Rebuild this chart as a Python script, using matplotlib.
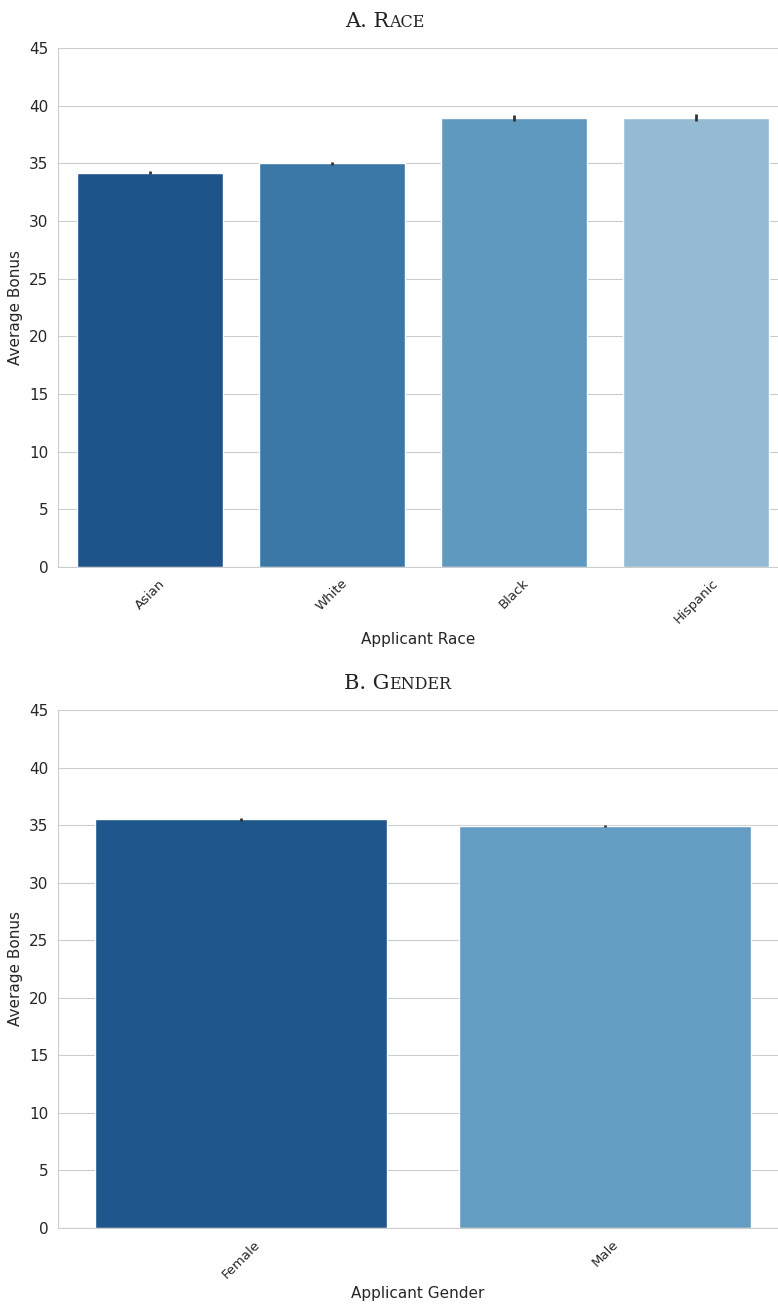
import matplotlib.pyplot as plt
import seaborn as sns

race_labels = ['Asian', 'White', 'Black', 'Hispanic']
race_bonus = [34.2, 35.0, 38.9, 38.95]
race_err = [0.12, 0.15, 0.25, 0.3]
race_colors = ['#1f548b', '#3b78a8', '#6099bf', '#94bbd3']

gender_labels = ['Female', 'Male']
gender_bonus = [35.5, 34.95]
gender_err = [0.1, 0.1]
gender_colors = ['#1f568c', '#659cc1']

sns.set_style('whitegrid')
plt.rcParams['font.family'] = ['DejaVu Sans']


def smallcaps_title(fig, y, first, rest):
    # fake small caps: big first letters, smaller upper-case rest
    fig.text(0.5, y, first, family='DejaVu Serif', fontsize=15, ha='right', va='baseline', color='#222222')
    fig.text(0.5, y, rest.upper(), family='DejaVu Serif', fontsize=11.5, ha='left', va='baseline', color='#222222')


def panel(ax, labels, vals, errs, colors, xlabel, xlim):
    x = range(len(labels))
    ax.bar(x, vals, width=0.8, color=colors)
    ax.errorbar(x, vals, yerr=errs, fmt='none', ecolor='#333333', elinewidth=2)
    ax.set_xticks(list(x))
    ax.set_xticklabels(labels, rotation=45)
    ax.set_xlim(*xlim)
    ax.set_ylim(0, 45)
    ax.set_yticks(range(0, 50, 5))
    ax.set_xlabel(xlabel, fontsize=11)
    ax.set_ylabel('Average Bonus', fontsize=11)
    ax.tick_params(axis='y', labelsize=11)
    ax.tick_params(axis='x', labelsize=9.5)
    ax.grid(axis='x', visible=False)
    for s in ['top', 'right']:
        ax.spines[s].set_visible(False)


fig = plt.figure(figsize=(7.78, 13.06), dpi=100)
ax1 = fig.add_axes([58 / 778, 1 - 567 / 1306, 720 / 778, 519 / 1306])
ax2 = fig.add_axes([58 / 778, 1 - 1228 / 1306, 720 / 778, 518 / 1306])
panel(ax1, race_labels, race_bonus, race_err, race_colors, 'Applicant Race', (-0.505, 3.45))
panel(ax2, gender_labels, gender_bonus, gender_err, gender_colors, 'Applicant Gender', (-0.503, 1.475))
smallcaps_title(fig, 1 - 27 / 1306, 'A. R', 'ace')
smallcaps_title(fig, 1 - 689 / 1306, 'B. G', 'ender')
fig.savefig('out.png', dpi=100)
